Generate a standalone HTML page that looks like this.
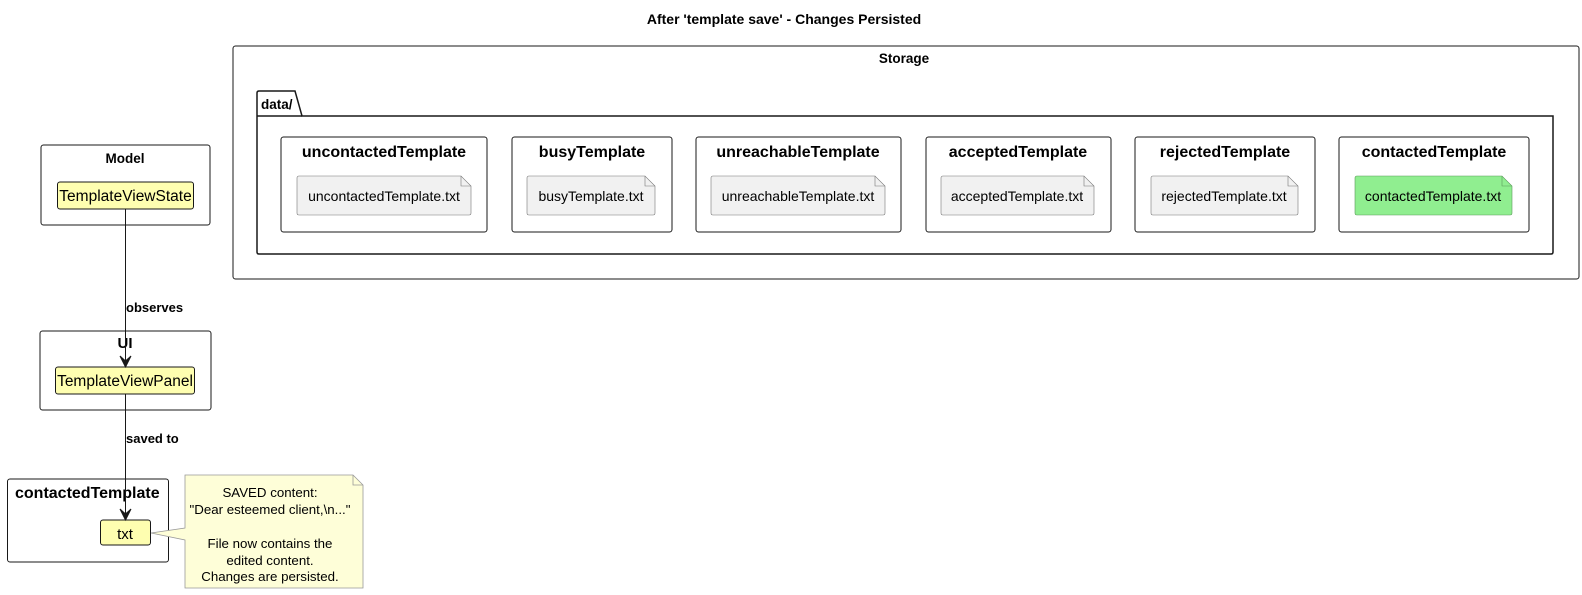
<!DOCTYPE html>
<html><head><meta charset="utf-8"><style>
html,body{margin:0;padding:0;background:#fff;width:1582px;height:595px;overflow:hidden}
svg{display:block;font-family:"Liberation Sans",Arial,sans-serif}
</style></head><body>
<svg width="1582" height="595" viewBox="0 0 1582 595" xmlns="http://www.w3.org/2000/svg">
<text x="784" y="24" text-anchor="middle" font-size="14" font-weight="bold">After 'template save' - Changes Persisted</text>

<!-- Storage -->
<rect x="233" y="46" width="1346" height="233" rx="2.5" fill="#fff" stroke="#181818" stroke-width="1"/>
<text x="904" y="63" text-anchor="middle" font-size="13.5" font-weight="bold">Storage</text>
<path d="M257,116 L257,93 Q257,91 259,91 L295,91 L302,116 L1553,116 L1553,252 Q1553,254 1551,254 L259,254 Q257,254 257,252 Z" fill="#fff" stroke="#181818" stroke-width="1.5"/>
<line x1="257" y1="116" x2="302" y2="116" stroke="#181818" stroke-width="1.5"/>
<text x="261" y="109" font-size="13.5" font-weight="bold">data/</text>

<g font-size="16" font-weight="bold" text-anchor="middle">
<rect x="281" y="137" width="206" height="95" rx="2.5" fill="#fff" stroke="#181818"/>
<text x="384" y="157">uncontactedTemplate</text>
<rect x="512" y="137" width="160" height="95" rx="2.5" fill="#fff" stroke="#181818"/>
<text x="592" y="157">busyTemplate</text>
<rect x="696" y="137" width="205" height="95" rx="2.5" fill="#fff" stroke="#181818"/>
<text x="798" y="157">unreachableTemplate</text>
<rect x="926" y="137" width="185" height="95" rx="2.5" fill="#fff" stroke="#181818"/>
<text x="1018" y="157">acceptedTemplate</text>
<rect x="1135" y="137" width="180" height="95" rx="2.5" fill="#fff" stroke="#181818"/>
<text x="1225" y="157">rejectedTemplate</text>
<rect x="1339" y="137" width="190" height="95" rx="2.5" fill="#fff" stroke="#181818"/>
<text x="1434" y="157">contactedTemplate</text>
</g>

<g font-size="14" text-anchor="middle" stroke-width="0.6">
<path d="M297,178 Q297,176 299,176 L461,176 L471,186 L471,213 Q471,215 469,215 L299,215 Q297,215 297,213 Z" fill="#f1f1f1" stroke="#777"/>
<path d="M461,176 L461,186 L471,186" fill="none" stroke="#777"/>
<text x="384" y="201">uncontactedTemplate.txt</text>
<path d="M527,178 Q527,176 529,176 L645,176 L655,186 L655,213 Q655,215 653,215 L529,215 Q527,215 527,213 Z" fill="#f1f1f1" stroke="#777"/>
<path d="M645,176 L645,186 L655,186" fill="none" stroke="#777"/>
<text x="591" y="201">busyTemplate.txt</text>
<path d="M711,178 Q711,176 713,176 L875,176 L885,186 L885,213 Q885,215 883,215 L713,215 Q711,215 711,213 Z" fill="#f1f1f1" stroke="#777"/>
<path d="M875,176 L875,186 L885,186" fill="none" stroke="#777"/>
<text x="798" y="201">unreachableTemplate.txt</text>
<path d="M941,178 Q941,176 943,176 L1084,176 L1094,186 L1094,213 Q1094,215 1092,215 L943,215 Q941,215 941,213 Z" fill="#f1f1f1" stroke="#777"/>
<path d="M1084,176 L1084,186 L1094,186" fill="none" stroke="#777"/>
<text x="1017" y="201">acceptedTemplate.txt</text>
<path d="M1151,178 Q1151,176 1153,176 L1288,176 L1298,186 L1298,213 Q1298,215 1296,215 L1153,215 Q1151,215 1151,213 Z" fill="#f1f1f1" stroke="#777"/>
<path d="M1288,176 L1288,186 L1298,186" fill="none" stroke="#777"/>
<text x="1224" y="201">rejectedTemplate.txt</text>
<path d="M1355,178 Q1355,176 1357,176 L1502,176 L1512,186 L1512,213 Q1512,215 1510,215 L1357,215 Q1355,215 1355,213 Z" fill="#90ee90" stroke="#5a9a5a"/>
<path d="M1502,176 L1502,186 L1512,186" fill="none" stroke="#5a9a5a"/>
<text x="1433" y="201">contactedTemplate.txt</text>
</g>

<!-- Model -->
<rect x="41" y="145" width="169" height="80" rx="2.5" fill="#fff" stroke="#181818"/>
<text x="125" y="163" text-anchor="middle" font-size="13.5" font-weight="bold">Model</text>
<rect x="57.5" y="182" width="136" height="27" rx="2.5" fill="#fefeb0" stroke="#181818"/>
<text x="125.5" y="201" text-anchor="middle" font-size="15.5">TemplateViewState</text>

<!-- UI -->
<rect x="40" y="331" width="171" height="79" rx="2.5" fill="#fff" stroke="#181818"/>
<text x="125" y="348" text-anchor="middle" font-size="15" font-weight="bold">UI</text>
<rect x="55.5" y="367" width="139" height="27" rx="2.5" fill="#fefeb0" stroke="#181818"/>
<text x="125" y="386" text-anchor="middle" font-size="15.5">TemplateViewPanel</text>

<!-- contactedTemplate -->
<rect x="7.5" y="479" width="161" height="83" rx="2.5" fill="#fff" stroke="#181818"/>
<text x="15" y="498" font-size="16" font-weight="bold">contactedTemplate</text>
<rect x="100.5" y="520" width="50" height="25" rx="2.5" fill="#fefeb0" stroke="#181818"/>
<text x="125" y="539" text-anchor="middle" font-size="15">txt</text>

<!-- connectors -->
<g stroke="#181818" stroke-width="1" fill="none">
<line x1="125.5" y1="209" x2="125.5" y2="366"/>
<path d="M120,356 L125.5,367 L131,356 L125.5,361 Z" fill="#181818"/>
<line x1="125.5" y1="394" x2="125.5" y2="519"/>
<path d="M120,509 L125.5,520 L131,509 L125.5,514 Z" fill="#181818"/>
</g>
<text x="126" y="312" font-size="13" font-weight="bold">observes</text>
<text x="126" y="443" font-size="13" font-weight="bold">saved to</text>

<!-- note -->
<path d="M185,475 L353,475 L363,485 L363,588 L185,588 L185,540 L151,533 L185,528 Z" fill="#fefed8" stroke="#999" stroke-width="0.8"/>
<path d="M353,475 L353,485 L363,485" fill="none" stroke="#999" stroke-width="0.8"/>
<g font-size="13.3" text-anchor="middle">
<text x="270" y="497">SAVED content:</text>
<text x="270" y="514">"Dear esteemed client,\n..."</text>
<text x="270" y="548">File now contains the</text>
<text x="270" y="565">edited content.</text>
<text x="270" y="581">Changes are persisted.</text>
</g>
</svg>
</body></html>
